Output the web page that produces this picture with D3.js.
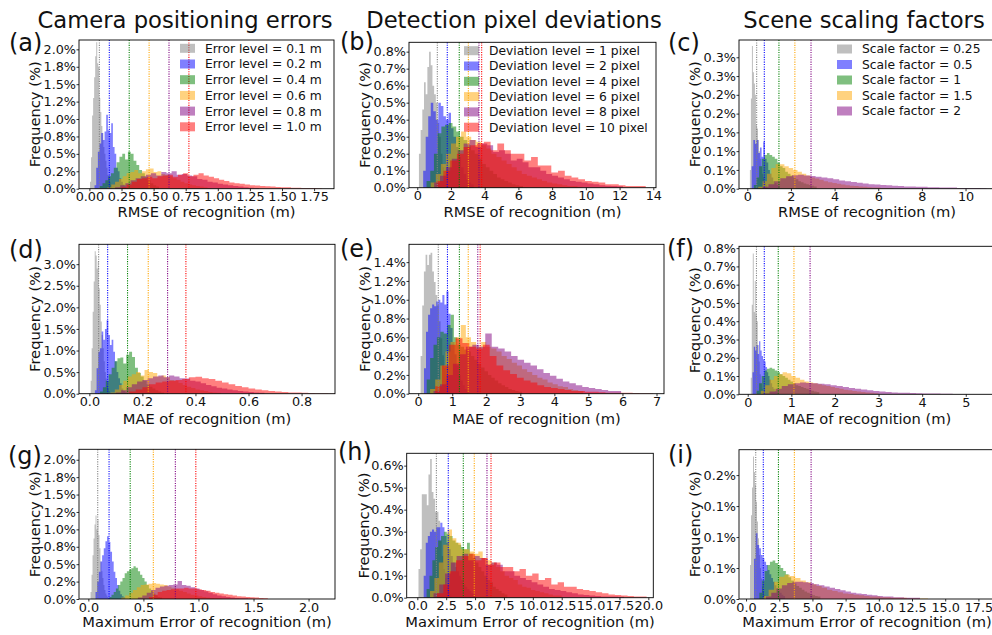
<!DOCTYPE html>
<html><head><meta charset="utf-8">
<script src="https://cdn.jsdelivr.net/npm/d3@7"></script>
<style>
body{margin:0;background:#fff}
svg text{font-family:"DejaVu Sans",sans-serif;fill:#111}
</style>
</head><body>
<svg id="chart" width="992" height="635"></svg>
<script>
// ---------------- DATA ----------------
const seriesColors = ["gray","blue","green","orange","purple","red"];
const columnTitles = ["Camera positioning errors","Detection pixel deviations","Scene scaling factors"];
const rowXLabels = ["RMSE of recognition (m)","MAE of recognition (m)","Maximum Error of recognition (m)"];
const panelLetters = ["(a)","(b)","(c)","(d)","(e)","(f)","(g)","(h)","(i)"];
const legendA = ["Error level = 0.1 m","Error level = 0.2 m","Error level = 0.4 m","Error level = 0.6 m","Error level = 0.8 m","Error level = 1.0 m"];
const legendB = ["Deviation level = 1 pixel","Deviation level = 2 pixel","Deviation level = 4 pixel","Deviation level = 6 pixel","Deviation level = 8 pixel","Deviation level = 10 pixel"];
const legendC = ["Scale factor = 0.25","Scale factor = 0.5","Scale factor = 1","Scale factor = 1.5","Scale factor = 2"];

// histogram bins: [first bin start, bin width] per series; frequencies in %
const binsA = [[0.005,0.008],[0.04,0.013],[0.08,0.022],[0.14,0.03],[0.2,0.04],[0.25,0.04]];
const freqA = [
 [0.1,0.45,1.05,1.3,1.6,1.9,2.1,1.8,1.75,1.3,1.1,0.9,0.8,0.6,0.5,0.4,0.3,0.2,0.15,0.1,0.05],
 [0.05,0.3,0.53,0.65,0.8,0.7,0.82,1.06,0.84,0.8,0.94,0.6,0.5,0.3,0.25,0.15,0.1,0.06,0.03],
 [0.04,0.08,0.12,0.18,0.22,0.3,0.38,0.46,0.5,0.42,0.53,0.5,0.4,0.34,0.27,0.22,0.17,0.12,0.08,0.05,0.03],
 [0.02,0.06,0.1,0.14,0.18,0.22,0.24,0.27,0.22,0.25,0.28,0.29,0.24,0.25,0.21,0.2,0.18,0.15,0.13,0.1,0.08,0.06,0.05,0.04,0.03,0.02,0.01],
 [0.02,0.05,0.08,0.12,0.15,0.18,0.2,0.22,0.19,0.24,0.22,0.25,0.2,0.21,0.19,0.18,0.14,0.13,0.1,0.09,0.07,0.06,0.05,0.04,0.03,0.02,0.015,0.01],
 [0.02,0.06,0.1,0.14,0.15,0.17,0.15,0.18,0.19,0.2,0.17,0.2,0.22,0.18,0.2,0.22,0.19,0.17,0.15,0.13,0.11,0.09,0.08,0.07,0.06,0.05,0.045,0.04,0.035,0.03,0.025,0.02,0.02,0.015,0.015,0.01,0.01,0.01,0.005]
];
const meanA = [0.0775,0.155,0.31,0.465,0.62,0.775];

const binsB = [[0.1,0.1],[0.35,0.15],[0.55,0.22],[0.8,0.3],[1.0,0.35],[1.15,0.4]];
const freqB = [
 [0.2,0.34,0.46,0.62,0.55,0.71,0.8,0.72,0.6,0.55,0.5,0.38,0.3,0.2,0.12,0.07,0.04,0.02],
 [0.1,0.3,0.42,0.5,0.45,0.4,0.5,0.48,0.42,0.4,0.44,0.35,0.3,0.24,0.18,0.12,0.08,0.05,0.03,0.02],
 [0.04,0.1,0.2,0.32,0.36,0.37,0.38,0.36,0.33,0.3,0.28,0.25,0.22,0.2,0.17,0.14,0.12,0.1,0.08,0.06,0.05,0.04,0.03,0.02,0.015,0.01],
 [0.03,0.08,0.14,0.2,0.26,0.3,0.33,0.3,0.28,0.27,0.25,0.23,0.2,0.18,0.16,0.14,0.12,0.1,0.08,0.07,0.06,0.05,0.04,0.03,0.025,0.02,0.015,0.01,0.01,0.005],
 [0.03,0.07,0.12,0.17,0.22,0.26,0.28,0.24,0.26,0.25,0.21,0.22,0.2,0.16,0.17,0.15,0.12,0.12,0.1,0.08,0.07,0.06,0.05,0.04,0.035,0.03,0.025,0.02,0.015,0.012,0.01,0.008],
 [0.04,0.1,0.16,0.2,0.24,0.25,0.26,0.27,0.22,0.26,0.22,0.2,0.2,0.16,0.18,0.13,0.13,0.09,0.1,0.07,0.06,0.05,0.04,0.035,0.03,0.02,0.02,0.015,0.01,0.01,0.01]
];
const meanB = [1.19,1.78,2.49,3.03,3.66,3.82];

const binsC = [[0.12,0.046],[0.2,0.076],[0.3,0.12],[0.5,0.2],[0.7,0.27]];
const freqC = [
 [0.05,0.24,0.38,0.31,0.28,0.25,0.17,0.16,0.13,0.1,0.08,0.06,0.04,0.03,0.02,0.015,0.01],
 [0.06,0.13,0.12,0.13,0.095,0.11,0.085,0.125,0.08,0.07,0.05,0.04,0.03,0.02,0.015,0.01,0.008],
 [0.01,0.03,0.06,0.08,0.09,0.095,0.09,0.085,0.08,0.07,0.06,0.055,0.045,0.04,0.035,0.03,0.025,0.02,0.017,0.014,0.012,0.01,0.008,0.006],
 [0.005,0.02,0.04,0.055,0.065,0.065,0.06,0.055,0.05,0.045,0.04,0.035,0.03,0.027,0.024,0.02,0.017,0.015,0.013,0.011,0.009,0.008,0.007,0.006,0.005,0.004,0.003,0.003,0.002,0.002,0.002],
 [0.005,0.012,0.02,0.028,0.033,0.036,0.037,0.035,0.034,0.032,0.03,0.028,0.025,0.022,0.02,0.018,0.016,0.014,0.012,0.011,0.01,0.009,0.008,0.007,0.006,0.006,0.005,0.005,0.004,0.004,0.003,0.003,0.003,0.002,0.002,0.002,0.002,0.001]
];
const meanC = [0.43,0.78,1.45,2.18,2.92];

const binsD = [[0.005,0.0038],[0.021,0.0063],[0.04,0.011],[0.08,0.016],[0.1,0.02],[0.15,0.025]];
const freqD = [
 [0.3,1.05,1.9,2.6,3.3,3.2,2.9,3.06,2.44,2.06,1.67,1.36,1.05,0.75,0.5,0.35,0.2,0.12,0.06],
 [0.08,0.59,0.97,1.05,1.44,1.25,1.5,1.7,1.36,1.13,1.25,0.97,0.75,0.5,0.36,0.24,0.12,0.06,0.03],
 [0.05,0.15,0.3,0.45,0.6,0.75,0.82,0.84,0.7,0.9,0.97,0.85,0.6,0.48,0.4,0.3,0.22,0.16,0.12,0.08,0.05,0.03],
 [0.03,0.1,0.2,0.3,0.4,0.45,0.5,0.42,0.55,0.5,0.48,0.4,0.42,0.38,0.32,0.3,0.25,0.2,0.16,0.13,0.1,0.08,0.06,0.04,0.03,0.02],
 [0.03,0.08,0.15,0.22,0.28,0.32,0.36,0.4,0.42,0.38,0.42,0.4,0.36,0.35,0.3,0.28,0.24,0.2,0.17,0.14,0.12,0.1,0.08,0.06,0.05,0.04,0.03,0.02],
 [0.05,0.1,0.15,0.22,0.26,0.28,0.3,0.32,0.34,0.38,0.39,0.36,0.34,0.3,0.26,0.22,0.18,0.15,0.12,0.1,0.08,0.065,0.05,0.04,0.03,0.025,0.02,0.015,0.01,0.01,0.005]
];
const meanD = [0.035,0.069,0.144,0.222,0.295,0.364];

const binsE = [[0.07,0.049],[0.17,0.06],[0.25,0.1],[0.35,0.15],[0.45,0.19],[0.5,0.2]];
const freqE = [
 [0.4,0.94,1.3,1.48,1.37,1.48,1.5,1.3,1.19,1.05,0.94,0.77,0.59,0.41,0.27,0.16,0.08,0.04],
 [0.27,0.66,0.84,0.91,0.95,0.93,0.98,1.0,0.97,1.05,0.95,1.09,0.85,0.7,0.55,0.42,0.3,0.2,0.14,0.09,0.05,0.03],
 [0.15,0.38,0.52,0.6,0.66,0.64,0.73,0.84,0.6,0.52,0.5,0.47,0.45,0.4,0.36,0.32,0.28,0.24,0.2,0.17,0.14,0.11,0.09,0.07,0.05,0.04,0.03,0.02],
 [0.05,0.15,0.3,0.45,0.55,0.6,0.73,0.6,0.55,0.5,0.55,0.5,0.48,0.45,0.4,0.37,0.33,0.3,0.26,0.23,0.2,0.17,0.15,0.12,0.1,0.08,0.07,0.05,0.04,0.03],
 [0.03,0.1,0.2,0.32,0.42,0.5,0.52,0.5,0.64,0.5,0.48,0.45,0.4,0.36,0.33,0.3,0.26,0.22,0.19,0.16,0.13,0.11,0.09,0.07,0.06,0.05,0.04,0.03,0.03],
 [0.08,0.3,0.52,0.59,0.54,0.5,0.48,0.52,0.4,0.3,0.25,0.21,0.17,0.14,0.12,0.09,0.07,0.06,0.05,0.04,0.03,0.03,0.02,0.02,0.015,0.01,0.01,0.01,0.01,0.008,0.005,0.005]
];
const meanE = [0.59,0.86,1.21,1.47,1.75,1.82];

const binsF = [[0.07,0.023],[0.11,0.03],[0.2,0.06],[0.3,0.1],[0.36,0.14]];
const freqF = [
 [0.09,0.49,0.77,0.45,0.62,0.44,0.4,0.27,0.18,0.11,0.06,0.03,0.015],
 [0.12,0.26,0.24,0.27,0.22,0.29,0.24,0.21,0.19,0.18,0.15,0.12,0.1,0.08,0.06,0.04,0.03,0.02,0.015,0.01],
 [0.02,0.06,0.1,0.13,0.14,0.145,0.14,0.13,0.12,0.11,0.1,0.09,0.08,0.07,0.06,0.05,0.045,0.04,0.035,0.03,0.025,0.02,0.015,0.012],
 [0.02,0.05,0.08,0.1,0.11,0.12,0.115,0.1,0.09,0.08,0.07,0.065,0.06,0.055,0.05,0.045,0.04,0.035,0.03,0.025,0.022,0.018,0.015,0.012,0.01,0.008,0.006],
 [0.005,0.015,0.03,0.045,0.055,0.06,0.065,0.062,0.06,0.058,0.055,0.05,0.045,0.04,0.035,0.03,0.026,0.022,0.018,0.015,0.012,0.01,0.009,0.008,0.007,0.006,0.005,0.004,0.004,0.003,0.003,0.002,0.002]
];
const meanF = [0.2,0.38,0.7,1.06,1.43];

const binsG = [[0.02,0.009],[0.065,0.015],[0.19,0.02],[0.3,0.035],[0.45,0.04],[0.55,0.04]];
const freqG = [
 [0.1,0.35,0.63,0.87,1.07,1.2,1.0,1.15,0.92,0.73,0.54,0.4,0.3,0.2,0.13,0.08,0.05,0.03],
 [0.1,0.25,0.39,0.54,0.63,0.73,0.83,0.9,0.82,0.68,0.54,0.39,0.3,0.2,0.12,0.07,0.04,0.02],
 [0.03,0.06,0.1,0.15,0.2,0.25,0.3,0.37,0.4,0.42,0.44,0.47,0.45,0.4,0.35,0.3,0.25,0.2,0.15,0.12,0.08,0.05,0.03,0.02],
 [0.02,0.05,0.09,0.13,0.17,0.2,0.21,0.22,0.23,0.22,0.21,0.2,0.18,0.16,0.14,0.12,0.1,0.08,0.06,0.05,0.04,0.03,0.02,0.015,0.01,0.01,0.005,0.005],
 [0.02,0.05,0.09,0.13,0.16,0.18,0.19,0.2,0.21,0.26,0.2,0.19,0.17,0.15,0.13,0.11,0.09,0.07,0.05,0.04,0.03,0.02,0.015,0.01,0.01,0.005],
 [0.03,0.06,0.1,0.12,0.13,0.14,0.15,0.15,0.16,0.15,0.15,0.14,0.13,0.12,0.1,0.09,0.08,0.07,0.06,0.05,0.04,0.035,0.03,0.025,0.02,0.015,0.01]
];
const meanG = [0.085,0.188,0.38,0.59,0.79,0.976];

const binsH = [[0.1,0.144],[0.55,0.18],[0.8,0.25],[1.1,0.38],[1.4,0.5],[1.7,0.55]];
const freqH = [
 [0.13,0.22,0.47,0.47,0.47,0.42,0.56,0.63,0.48,0.45,0.39,0.39,0.35,0.26,0.19,0.13,0.09,0.05,0.03,0.015],
 [0.1,0.25,0.28,0.3,0.31,0.3,0.32,0.32,0.34,0.32,0.28,0.25,0.22,0.19,0.16,0.14,0.12,0.1,0.08,0.06,0.05,0.04,0.03,0.02,0.015],
 [0.04,0.1,0.17,0.23,0.26,0.28,0.3,0.29,0.28,0.26,0.25,0.24,0.23,0.22,0.25,0.2,0.18,0.16,0.14,0.12,0.1,0.08,0.07,0.05,0.04,0.03,0.02,0.015],
 [0.03,0.09,0.16,0.24,0.31,0.27,0.25,0.22,0.22,0.21,0.2,0.21,0.18,0.17,0.16,0.14,0.12,0.1,0.09,0.08,0.06,0.05,0.045,0.035,0.03,0.025,0.02,0.015,0.01,0.01],
 [0.02,0.06,0.11,0.16,0.19,0.2,0.17,0.19,0.18,0.15,0.16,0.15,0.12,0.12,0.1,0.09,0.08,0.07,0.06,0.05,0.04,0.035,0.03,0.025,0.02,0.015,0.012,0.01,0.008,0.006,0.005,0.005,0.004],
 [0.02,0.06,0.12,0.17,0.19,0.2,0.17,0.18,0.15,0.16,0.14,0.14,0.12,0.13,0.1,0.11,0.08,0.09,0.06,0.07,0.05,0.05,0.04,0.035,0.03,0.025,0.02,0.015,0.012,0.01,0.008,0.006,0.005]
];
const meanH = [1.65,2.68,3.98,4.93,6.03,6.38];

const binsI = [[0.3,0.075],[0.6,0.13],[1.0,0.2],[1.3,0.4],[1.5,0.4]];
const freqI = [
 [0.055,0.135,0.18,0.23,0.205,0.184,0.157,0.125,0.098,0.071,0.05,0.033,0.02,0.012,0.006],
 [0.065,0.106,0.087,0.082,0.071,0.066,0.06,0.055,0.047,0.04,0.034,0.028,0.022,0.017,0.013,0.01,0.007,0.005],
 [0.01,0.03,0.045,0.055,0.06,0.062,0.058,0.055,0.05,0.045,0.04,0.035,0.03,0.025,0.021,0.018,0.015,0.012,0.01,0.008,0.006,0.005,0.004],
 [0.005,0.015,0.028,0.036,0.039,0.037,0.034,0.03,0.027,0.024,0.021,0.018,0.015,0.013,0.011,0.009,0.008,0.007,0.006,0.005,0.004,0.004,0.003,0.003,0.002,0.002,0.002,0.001,0.001,0.001,0.001],
 [0.004,0.01,0.017,0.022,0.026,0.028,0.028,0.027,0.026,0.024,0.022,0.02,0.018,0.016,0.014,0.012,0.01,0.009,0.008,0.007,0.006,0.005,0.004,0.004,0.003,0.003,0.002,0.002,0.002]
];
const meanI = [0.73,1.3,2.44,3.64,4.9];

// tick values and labels
const xTicksA = [0,0.25,0.5,0.75,1,1.25,1.5,1.75], xTickLabelsA = ["0.00","0.25","0.50","0.75","1.00","1.25","1.50","1.75"];
const xTicksB = [0,2,4,6,8,10,12,14], xTickLabelsB = ["0","2","4","6","8","10","12","14"];
const xTicksC = [0,2,4,6,8,10], xTickLabelsC = ["0","2","4","6","8","10"];
const xTicksD = [0,0.2,0.4,0.6,0.8], xTickLabelsD = ["0.0","0.2","0.4","0.6","0.8"];
const xTicksE = [0,1,2,3,4,5,6,7], xTickLabelsE = ["0","1","2","3","4","5","6","7"];
const xTicksF = [0,1,2,3,4,5], xTickLabelsF = ["0","1","2","3","4","5"];
const xTicksG = [0,0.5,1,1.5,2], xTickLabelsG = ["0.0","0.5","1.0","1.5","2.0"];
const xTicksH = [0,2.5,5,7.5,10,12.5,15,17.5,20], xTickLabelsH = ["0.0","2.5","5.0","7.5","10.0","12.5","15.0","17.5","20.0"];
const xTicksI = [0,2.5,5,7.5,10,12.5,15,17.5], xTickLabelsI = ["0.0","2.5","5.0","7.5","10.0","12.5","15.0","17.5"];
const yTicksA = [0,0.25,0.5,0.75,1,1.25,1.5,1.75,2], yTickLabelsA = ["0.0%","0.2%","0.5%","0.8%","1.0%","1.2%","1.5%","1.8%","2.0%"];
const yTicksB = [0,0.1,0.2,0.3,0.4,0.5,0.6,0.7,0.8], yTickLabelsB = ["0.0%","0.1%","0.2%","0.3%","0.4%","0.5%","0.6%","0.7%","0.8%"];
const yTicksC = [0,0.05,0.1,0.15,0.2,0.25,0.3,0.35], yTickLabelsC = ["0.0%","0.1%","0.1%","0.1%","0.2%","0.2%","0.3%","0.3%"];
const yTicksD = [0,0.5,1,1.5,2,2.5,3], yTickLabelsD = ["0.0%","0.5%","1.0%","1.5%","2.0%","2.5%","3.0%"];
const yTicksE = [0,0.2,0.4,0.6,0.8,1,1.2,1.4], yTickLabelsE = ["0.0%","0.2%","0.4%","0.6%","0.8%","1.0%","1.2%","1.4%"];
const yTicksF = yTicksB, yTickLabelsF = yTickLabelsB;
const yTicksG = yTicksA, yTickLabelsG = yTickLabelsA;
const yTicksH = [0,0.1,0.2,0.3,0.4,0.5,0.6], yTickLabelsH = ["0.0%","0.1%","0.2%","0.3%","0.4%","0.5%","0.6%"];
const yTicksI = [0,0.05,0.1,0.15,0.2], yTickLabelsI = ["0.0%","0.1%","0.1%","0.1%","0.2%"];

// ---------------- LAYOUT ----------------
const layout = [
 {f:[79,40,334,188.7],   xd:[-0.081,1.905], ym:2.134, yl:40},
 {f:[409,42.3,656,187.7],xd:[-0.49,14.16],  ym:0.855, yl:370},
 {f:[739,40,995,188.7],  xd:[-0.38,11.35],  ym:0.396, yl:700},
 {f:[79,244.3,335,393.7],xd:[-0.039,0.926], ym:3.46,  yl:40},
 {f:[409,244.3,664,393.7],xd:[-0.27,7.22],  ym:1.59,  yl:370},
 {f:[739,246.3,995,394.3], xd:[-0.2,5.67],  ym:0.81,  yl:700},
 {f:[79,449.3,335,599],  xd:[-0.085,2.24],  ym:2.15,  yl:40},
 {f:[406.7,453.3,653.3,597.7],xd:[-0.92,20.43],ym:0.656, yl:369},
 {f:[739,449.7,995,599], xd:[-0.53,18.75],  ym:0.241, yl:700}
];
const letterPos = [[9,51],[340,50],[668,51],[9,257.5],[340,257],[667,257],[8,463.5],[338,460],[668,463]];
const titleX = [185,514,864];
const rowLabelY = [216.5,424,627];
const legendPos = [{px:180,tx:205,y0:48.3,dy:15.7},{px:464,tx:489,y0:50.7,dy:15.3},{px:837,tx:862,y0:49,dy:15.5}];

const panelData = [
 [binsA,freqA,meanA,xTicksA,xTickLabelsA,yTicksA,yTickLabelsA],
 [binsB,freqB,meanB,xTicksB,xTickLabelsB,yTicksB,yTickLabelsB],
 [binsC,freqC,meanC,xTicksC,xTickLabelsC,yTicksC,yTickLabelsC],
 [binsD,freqD,meanD,xTicksD,xTickLabelsD,yTicksD,yTickLabelsD],
 [binsE,freqE,meanE,xTicksE,xTickLabelsE,yTicksE,yTickLabelsE],
 [binsF,freqF,meanF,xTicksF,xTickLabelsF,yTicksF,yTickLabelsF],
 [binsG,freqG,meanG,xTicksG,xTickLabelsG,yTicksG,yTickLabelsG],
 [binsH,freqH,meanH,xTicksH,xTickLabelsH,yTicksH,yTickLabelsH],
 [binsI,freqI,meanI,xTicksI,xTickLabelsI,yTicksI,yTickLabelsI]
];
const legends = [legendA,legendB,legendC];

// ---------------- DRAW ----------------
const svg = d3.select("#chart");
const defs = svg.append("defs");
const TICKFS = 12.8, LABELFS = 14.7;

columnTitles.forEach((t,i)=>{
  svg.append("text").attr("x",titleX[i]).attr("y",28.3).attr("text-anchor","middle")
    .style("font-size","22.7px").text(t);
});

panelData.forEach((pd,i)=>{
  const [bins,freq,means,xt,xtl,yt,ytl] = pd;
  const L = layout[i], [x0,y0,x1,y1] = L.f;
  const x = d3.scaleLinear().domain(L.xd).range([x0,x1]);
  const y = d3.scaleLinear().domain([0,L.ym]).range([y1,y0]);
  defs.append("clipPath").attr("id","cp"+i).append("rect")
    .attr("x",x0).attr("y",y0).attr("width",x1-x0).attr("height",y1-y0);
  const plot = svg.append("g").attr("clip-path",`url(#cp${i})`);
  const area = d3.area().curve(d3.curveStepAfter)
    .x(d=>x(d[0])).y0(y(0)).y1(d=>y(d[1]));
  bins.forEach((b,s)=>{
    const pts = freq[s].map((v,k)=>[b[0]+k*b[1], v]);
    pts.push([b[0]+freq[s].length*b[1], 0]);
    plot.append("path").attr("d",area(pts))
      .attr("fill",seriesColors[s]).attr("fill-opacity",0.5);
  });
  means.forEach((m,s)=>{
    plot.append("line").attr("x1",x(m)).attr("x2",x(m)).attr("y1",y0).attr("y2",y1)
      .attr("stroke",seriesColors[s]).attr("stroke-width",1.1).attr("stroke-dasharray","1.1,1.3");
  });
  const gx = svg.append("g").attr("transform",`translate(0,${y1})`)
    .call(d3.axisBottom(x).tickValues(xt).tickFormat((d,k)=>xtl[k]).tickSize(2.5).tickPadding(1));
  const gy = svg.append("g").attr("transform",`translate(${x0},0)`)
    .call(d3.axisLeft(y).tickValues(yt).tickFormat((d,k)=>ytl[k]).tickSize(2.5).tickPadding(0.5));
  [gx,gy].forEach(g=>{
    g.attr("font-family",null).attr("font-size",null);
    g.select(".domain").remove();
    g.selectAll("line").attr("stroke","#000").attr("stroke-width",0.8);
    g.selectAll("text").style("font-size",TICKFS+"px").attr("fill","#111");
  });
  svg.append("rect").attr("x",x0).attr("y",y0).attr("width",x1-x0).attr("height",y1-y0)
    .attr("fill","none").attr("stroke","#000").attr("stroke-width",0.9);
  const row = Math.floor(i/3);
  svg.append("text").attr("x",(x0+x1)/2).attr("y",rowLabelY[row])
    .attr("text-anchor","middle").style("font-size",LABELFS+"px").text(rowXLabels[row]);
  svg.append("text").attr("transform",`translate(${L.yl},${(y0+y1)/2}) rotate(-90)`)
    .attr("text-anchor","middle").style("font-size",LABELFS+"px").text("Frequency (%)");
  svg.append("text").attr("x",letterPos[i][0]).attr("y",letterPos[i][1])
    .style("font-size","24px").attr("fill","#222").text(panelLetters[i]);
  if (i<3){
    const lp = legendPos[i];
    legends[i].forEach((t,s)=>{
      const cy = lp.y0 + s*lp.dy;
      svg.append("rect").attr("x",lp.px).attr("y",cy-4.5).attr("width",15).attr("height",9)
        .attr("fill",seriesColors[s]).attr("fill-opacity",0.5);
      svg.append("text").attr("x",lp.tx).attr("y",cy+4.4).style("font-size","12.3px").text(t);
    });
  }
});
</script>
</body></html>
